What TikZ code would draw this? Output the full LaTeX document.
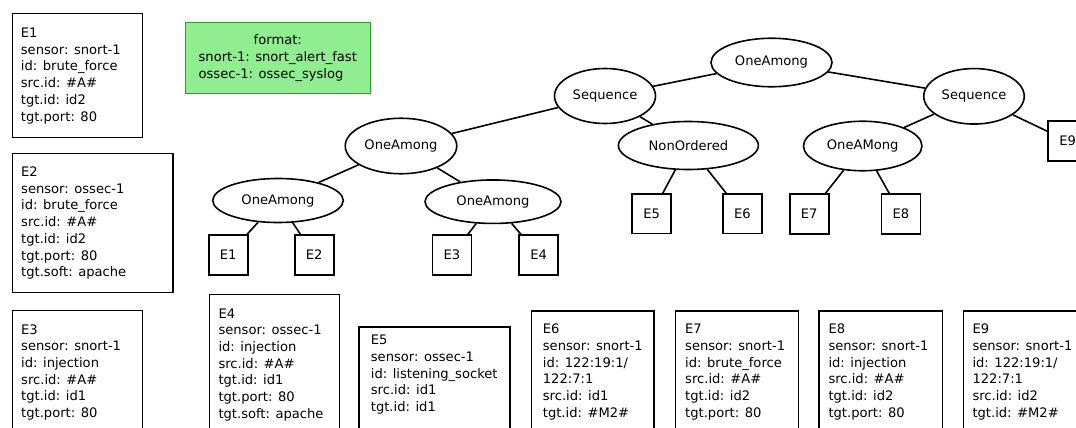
\documentclass[tikz,border=0pt]{standalone}
\usepackage{fontspec}
\setmainfont{DejaVu Sans}
\usetikzlibrary{shapes.geometric}
\definecolor{fmtfill}{HTML}{90EE90}
\definecolor{fmtdraw}{HTML}{25A025}
\begin{document}
\begin{tikzpicture}[x=1pt,y=-1pt,
  every node/.style={font=\fontsize{13.1}{16.7}\selectfont},
  op/.style={ellipse, draw, line width=1.6pt, inner sep=0pt},
  ev/.style={rectangle, draw, line width=1.6pt, minimum width=39pt, minimum height=39.5pt, inner sep=0pt},
  info/.style={rectangle, draw, line width=1.6pt, anchor=north west, inner sep=0pt},
  infotext/.style={anchor=north west, align=left, inner sep=0pt},
  conn/.style={line width=1.6pt}]
\useasboundingbox (0,0) rectangle (1076,428);
\clip (0,0) rectangle (1076,428);

% format box
\node[rectangle, fill=fmtfill, draw=fmtdraw, line width=0.8pt, minimum width=185pt, minimum height=71pt, inner sep=0pt] (fmt) at (277.8,58.2)
  {\begin{tabular}{@{}l@{}}\multicolumn{1}{@{}c@{}}{format:}\\snort-1: snort\_alert\_fast\\ossec-1: ossec\_syslog\end{tabular}};

% tree operators
\node[op, minimum width=121pt, minimum height=48.5pt] (top) at (771.5,62.5) {OneAmong};
\node[op, minimum width=101pt, minimum height=55pt] (seqL) at (605,96) {Sequence};
\node[op, minimum width=100.5pt, minimum height=55.5pt] (seqR) at (974,96.3) {Sequence};
\node[op, minimum width=111.5pt, minimum height=55.5pt] (oaM) at (401,146) {OneAmong};
\node[op, minimum width=140pt, minimum height=48pt] (nonord) at (688.4,145.5) {NonOrdered};
\node[op, minimum width=118.5pt, minimum height=49.5pt] (oaR) at (862.7,146) {OneAMong};
\node[op, minimum width=130.5pt, minimum height=44pt] (oaL) at (278,200.5) {OneAmong};
\node[op, minimum width=136pt, minimum height=43.5pt] (oaR2) at (493,201.7) {OneAmong};

% event leaves
\node[ev] (e1) at (228.2,255) {E1};
\node[ev] (e2) at (314.2,255) {E2};
\node[ev] (e3) at (452,255) {E3};
\node[ev] (e4) at (538.7,255) {E4};
\node[ev] (e5) at (651.7,213.8) {E5};
\node[ev] (e6) at (742.5,213.8) {E6};
\node[ev] (e7) at (809.2,214) {E7};
\node[ev] (e8) at (900.8,214) {E8};
\node[ev] (e9) at (1067.7,141) {E9};

% connectors
\draw[conn] (top) -- (seqL);
\draw[conn] (top) -- (seqR);
\draw[conn] (seqL) -- (oaM);
\draw[conn] (seqL) -- (nonord);
\draw[conn] (oaM) -- (oaL);
\draw[conn] (oaM) -- (oaR2);
\draw[conn] (oaL) -- (e1);
\draw[conn] (oaL) -- (e2);
\draw[conn] (oaR2) -- (e3);
\draw[conn] (oaR2) -- (e4);
\draw[conn] (nonord) -- (e5);
\draw[conn] (nonord) -- (e6);
\draw[conn] (seqR) -- (oaR);
\draw[conn] (seqR) -- (e9);
\draw[conn] (oaR) -- (e7);
\draw[conn] (oaR) -- (e8);

% info boxes
\node[info, minimum width=130pt, minimum height=124pt] (i1) at (11.8,12.8) {};
\node[infotext, xshift=8.9pt] (t1) at (i1.north west) {\rule{0pt}{24.5pt}E1\\sensor: snort-1\\id: brute\_force\\src.id: \#A\#\\tgt.id: id2\\tgt.port: 80};

\node[info, minimum width=160.5pt, minimum height=139pt] (i2) at (11.8,152.8) {};
\node[infotext, xshift=9.2pt] (t2) at (i2.north west) {\rule{0pt}{23.5pt}E2\\sensor: ossec-1\\id: brute\_force\\src.id: \#A\#\\tgt.id: id2\\tgt.port: 80\\tgt.soft: apache};

\node[info, minimum width=130pt, minimum height=150pt] (i3) at (11.8,309.8) {};
\node[infotext, xshift=9.2pt] (t3) at (i3.north west) {\rule{0pt}{24pt}E3\\sensor: snort-1\\id: injection\\src.id: \#A\#\\tgt.id: id1\\tgt.port: 80};

\node[info, minimum width=130pt, minimum height=150pt] (i4) at (208.8,293.8) {};
\node[infotext, xshift=9.5pt] (t4) at (i4.north west) {\rule{0pt}{24pt}E4\\sensor: ossec-1\\id: injection\\src.id: \#A\#\\tgt.id: id1\\tgt.port: 80\\tgt.soft: apache};

\node[info, minimum width=151pt, minimum height=150pt] (i5) at (358,326) {};
\node[infotext, xshift=12.7pt] (t5) at (i5.north west) {\rule{0pt}{18.5pt}E5\\sensor: ossec-1\\id: listening\_socket\\src.id: id1\\tgt.id: id1};

\node[info, minimum width=122.5pt, minimum height=150pt] (i6) at (530.8,310) {};
\node[infotext, xshift=11.9pt] (t6) at (i6.north west) {\rule{0pt}{23.5pt}E6\\sensor: snort-1\\id: 122:19:1/\\122:7:1\\src.id: id1\\tgt.id: \#M2\#};

\node[info, minimum width=122.8pt, minimum height=150pt] (i7) at (674.8,310) {};
\node[infotext, xshift=10.2pt] (t7) at (i7.north west) {\rule{0pt}{23.5pt}E7\\sensor: snort-1\\id: brute\_force\\src.id: \#A\#\\tgt.id: id2\\tgt.port: 80};

\node[info, minimum width=123.5pt, minimum height=150pt] (i8) at (818,310) {};
\node[infotext, xshift=10.3pt] (t8) at (i8.north west) {\rule{0pt}{23.5pt}E8\\sensor: snort-1\\id: injection\\src.id: \#A\#\\tgt.id: id2\\tgt.port: 80};

\node[info, minimum width=124pt, minimum height=150pt] (i9) at (962.5,310) {};
\node[infotext, xshift=9.8pt] (t9) at (i9.north west) {\rule{0pt}{23.5pt}E9\\sensor: snort-1\\id: 122:19:1/\\122:7:1\\src.id: id2\\tgt.id: \#M2\#};
\end{tikzpicture}
\end{document}
